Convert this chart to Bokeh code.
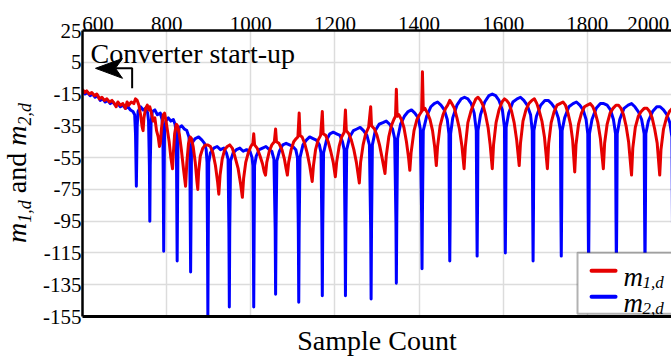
from bokeh.plotting import figure
from bokeh.layouts import row
from bokeh.models import (Range1d, LinearAxis, FixedTicker, Label, BoxAnnotation, Div)
from bokeh.embed import file_html
from bokeh.resources import INLINE

# ---------------- data ----------------
x_ticks = [600, 800, 1000, 1200, 1400, 1600, 1800, 2000]
y_ticks = [25, 5, -15, -35, -55, -75, -95, -115, -135, -155]

# m2,d (blue): (sample, value)
m2_points = [
    (600, -13), (606, -15), (612, -14), (618, -16), (624, -15), (630, -17), (636, -16),
    (642, -19), (648, -18), (654, -20), (660, -19), (666, -21), (672, -20), (678, -22),
    (684, -21), (690, -23), (696, -22), (702, -24), (708, -23), (714, -25), (720, -26),
    (724, -28), (726, -40), (728, -73), (730, -35), (732, -26), (738, -23), (744, -25),
    (750, -24), (755, -27), (757, -32), (759, -60), (760, -95), (761, -60), (763, -33),
    (766, -26), (772, -25), (778, -28), (785, -27), (789, -31), (791, -38), (792, -70),
    (793, -114), (794, -70), (795, -38), (798, -32), (804, -30), (810, -32), (816, -31),
    (820, -34), (823, -40), (824, -80), (825, -120), (826, -80), (827, -42), (830, -36),
    (836, -35), (842, -37), (848, -38), (853, -42), (855, -50), (856, -90), (857, -127),
    (858, -90), (859, -52), (862, -45), (868, -43), (876, -42), (884, -44), (890, -46),
    (894, -50), (896, -58), (897, -100), (898, -155), (899, -100), (900, -58), (904, -52),
    (912, -49), (920, -48), (928, -50), (936, -49), (942, -52), (946, -56), (948, -100),
    (949, -149), (950, -100), (952, -57), (958, -52), (966, -50), (974, -49), (982, -51),
    (990, -50), (998, -51), (1003, -55), (1005, -60), (1006, -100), (1007, -149),
    (1008, -100), (1009, -60), (1013, -54), (1020, -50), (1028, -49), (1036, -48),
    (1044, -50), (1050, -51), (1055, -56), (1058, -100), (1059, -141), (1060, -100),
    (1062, -57), (1068, -51), (1076, -47), (1084, -46), (1092, -47), (1100, -48),
    (1107, -50), (1111, -55), (1113, -100), (1114, -146), (1115, -100), (1117, -55),
    (1124, -47), (1132, -44), (1140, -42), (1148, -43), (1156, -44), (1163, -47),
    (1167, -52), (1169, -100), (1170, -142), (1171, -100), (1173, -52), (1180, -44),
    (1188, -40), (1196, -39), (1204, -40), (1212, -41), (1218, -45), (1222, -50),
    (1224, -100), (1225, -142), (1226, -100), (1228, -50), (1235, -42), (1244, -38),
    (1252, -37), (1260, -36), (1268, -38), (1276, -41), (1282, -47), (1285, -100),
    (1286, -144), (1287, -100), (1289, -47), (1296, -38), (1305, -34), (1314, -33),
    (1322, -32), (1330, -34), (1337, -37), (1342, -43), (1345, -95), (1346, -134),
    (1347, -95), (1349, -43), (1356, -34), (1365, -29), (1374, -26), (1382, -25),
    (1390, -27), (1398, -30), (1403, -37), (1406, -90), (1407, -125), (1408, -90),
    (1410, -38), (1418, -29), (1428, -23), (1436, -21), (1444, -20), (1452, -22),
    (1460, -25), (1467, -31), (1471, -40), (1472, -90), (1473, -120), (1474, -90),
    (1475, -40), (1480, -30), (1490, -22), (1500, -18), (1508, -17), (1516, -18),
    (1524, -21), (1531, -27), (1536, -38), (1537, -85), (1538, -117), (1539, -85),
    (1540, -38), (1546, -28), (1556, -20), (1566, -16), (1574, -15), (1582, -16),
    (1590, -19), (1598, -25), (1603, -36), (1604, -85), (1605, -115), (1606, -85),
    (1607, -36), (1613, -27), (1623, -20), (1633, -18), (1641, -17), (1649, -19),
    (1657, -22), (1665, -28), (1669, -38), (1670, -85), (1671, -120), (1672, -85),
    (1673, -38), (1679, -29), (1689, -22), (1699, -19), (1707, -19), (1715, -21),
    (1723, -24), (1731, -30), (1736, -38), (1737, -85), (1738, -117), (1739, -85),
    (1740, -38), (1746, -30), (1756, -23), (1766, -21), (1774, -20), (1782, -22),
    (1790, -25), (1797, -31), (1801, -40), (1802, -90), (1803, -125), (1804, -90),
    (1805, -40), (1811, -31), (1821, -24), (1831, -21), (1839, -21), (1847, -22),
    (1855, -25), (1862, -31), (1867, -40), (1868, -90), (1869, -125), (1870, -90),
    (1871, -40), (1877, -31), (1887, -24), (1897, -22), (1905, -21), (1913, -23),
    (1921, -26), (1929, -31), (1935, -40), (1936, -90), (1937, -125), (1938, -90),
    (1939, -40), (1945, -32), (1955, -26), (1965, -23), (1973, -23), (1981, -25),
    (1989, -28), (1996, -33), (2001, -42), (2003, -125),
]

# m1,d (red): (sample, value)
m1_points = [
    (600, -12), (605, -14), (610, -13), (616, -15), (622, -14), (628, -16), (634, -15),
    (640, -18), (646, -17), (652, -19), (658, -18), (664, -20), (670, -19), (676, -21),
    (680, -23), (684, -20), (690, -22), (696, -21), (702, -24), (706, -20), (710, -22),
    (716, -20), (722, -21), (726, -18), (730, -19), (734, -22), (738, -28), (742, -36),
    (744, -38), (746, -30), (750, -24), (754, -22), (758, -25), (760, -23), (763, -26),
    (768, -32), (772, -30), (776, -38), (780, -42), (783, -48), (785, -46), (788, -36),
    (792, -28), (795, -27), (798, -31), (802, -38), (806, -45), (810, -55), (814, -62),
    (816, -52), (819, -40), (823, -34), (826, -35), (830, -40), (835, -50), (840, -62),
    (845, -73), (848, -58), (852, -46), (856, -42), (859, -43), (863, -48), (868, -58),
    (872, -70), (874, -75), (876, -64), (880, -54), (886, -49), (892, -47), (898, -47),
    (904, -48), (910, -52), (916, -60), (921, -70), (924, -78), (927, -66), (932, -56),
    (938, -50), (944, -48), (950, -47), (956, -49), (962, -54), (970, -62), (976, -72),
    (980, -80), (983, -68), (988, -58), (994, -52), (1000, -48), (1005, -46), (1007, -40),
    (1009, -47), (1015, -49), (1022, -54), (1028, -59), (1032, -64), (1035, -66),
    (1038, -58), (1044, -51), (1050, -47), (1056, -45), (1059, -37), (1061, -45),
    (1067, -46), (1074, -50), (1080, -56), (1084, -62), (1087, -66), (1090, -58),
    (1096, -50), (1102, -45), (1108, -43), (1112, -42), (1115, -27), (1117, -41),
    (1122, -42), (1128, -46), (1134, -52), (1140, -60), (1146, -70), (1149, -60),
    (1154, -50), (1160, -44), (1166, -41), (1170, -26), (1172, -40), (1178, -41),
    (1184, -45), (1190, -51), (1196, -58), (1201, -67), (1204, -58), (1210, -48),
    (1216, -42), (1222, -39), (1225, -25), (1227, -38), (1233, -40), (1239, -44),
    (1245, -50), (1251, -58), (1258, -71), (1261, -58), (1267, -47), (1273, -40),
    (1280, -36), (1285, -23), (1287, -35), (1294, -37), (1300, -41), (1306, -47),
    (1312, -55), (1319, -65), (1322, -54), (1328, -42), (1334, -35), (1340, -31),
    (1344, -29), (1346, -12), (1348, -29), (1352, -28), (1358, -31), (1364, -36),
    (1370, -45), (1375, -55), (1378, -63), (1381, -52), (1388, -38), (1395, -31),
    (1401, -28), (1406, -26), (1408, -1), (1410, -25), (1414, -24), (1420, -27),
    (1426, -31), (1432, -38), (1437, -48), (1441, -60), (1444, -48), (1450, -35),
    (1457, -28), (1463, -24), (1468, -22), (1473, -19), (1478, -21), (1484, -24),
    (1490, -30), (1496, -37), (1502, -48), (1507, -62), (1510, -48), (1516, -33),
    (1523, -26), (1530, -21), (1535, -18), (1540, -17), (1546, -19), (1552, -22),
    (1558, -28), (1564, -36), (1569, -47), (1574, -62), (1577, -47), (1583, -33),
    (1590, -25), (1597, -20), (1603, -18), (1608, -19), (1614, -21), (1620, -26),
    (1626, -33), (1632, -44), (1638, -60), (1641, -46), (1647, -32), (1654, -25),
    (1661, -21), (1668, -19), (1674, -18), (1680, -21), (1686, -26), (1692, -32),
    (1698, -42), (1705, -62), (1708, -46), (1714, -33), (1721, -26), (1728, -22),
    (1735, -21), (1742, -20), (1748, -22), (1754, -27), (1760, -34), (1765, -44),
    (1770, -64), (1773, -47), (1779, -34), (1786, -27), (1793, -23), (1800, -22),
    (1807, -21), (1813, -23), (1819, -27), (1825, -33), (1831, -43), (1838, -62),
    (1841, -46), (1847, -34), (1854, -27), (1861, -24), (1868, -22), (1874, -22),
    (1880, -24), (1886, -28), (1892, -35), (1898, -45), (1905, -66), (1908, -49),
    (1914, -36), (1921, -29), (1928, -26), (1935, -24), (1942, -24), (1948, -26),
    (1954, -30), (1960, -37), (1966, -46), (1972, -66), (1975, -50), (1981, -37),
    (1988, -30), (1995, -26), (2002, -24),
]

m1_sample = [s for s, _ in m1_points]
m1_value = [v for _, v in m1_points]
m2_sample = [s for s, _ in m2_points]
m2_value = [v for _, v in m2_points]

RED = "#e60000"
BLUE = "#0000ff"
SERIF = "Liberation Serif"

LEFT_W = 38
p = figure(width=671 - LEFT_W, height=358,
           x_range=Range1d(600, 2000), y_range=Range1d(-155, 25),
           x_axis_location="above",
           output_backend="svg", toolbar_location=None,
           min_border_left=82 - LEFT_W, min_border_right=0,
           min_border_top=30, min_border_bottom=41)
p.title.visible = False
p.outline_line_color = None
p.background_fill_color = "white"
p.border_fill_color = "white"

# top axis: the edge labels sit inside the frame, as in the original
top_label_pos = [637, 800, 1000, 1200, 1400, 1600, 1800, 1945]
xa = p.xaxis[0]
xa.ticker = FixedTicker(ticks=top_label_pos)
xa.major_label_overrides = {pos: str(t) for pos, t in zip(top_label_pos, x_ticks)}
xa.major_tick_out = 0
xa.major_tick_in = 0
xa.minor_tick_out = 0
xa.minor_tick_in = 0
xa.axis_line_width = 2.5
xa.axis_line_color = "black"
xa.major_label_text_font = SERIF
xa.major_label_text_font_size = "21px"
xa.major_label_text_color = "black"
xa.major_label_standoff = 0

# left axis
ya = p.yaxis[0]
ya.ticker = FixedTicker(ticks=y_ticks)
ya.major_label_overrides = {t: str(t) for t in y_ticks}
ya.major_tick_out = 0
ya.major_tick_in = 0
ya.minor_tick_out = 0
ya.minor_tick_in = 0
ya.axis_line_width = 2.5
ya.axis_line_color = "black"
ya.major_label_text_font = SERIF
ya.major_label_text_font_size = "21px"
ya.major_label_text_color = "black"
ya.major_label_standoff = 1

# bottom axis with the axis title
xb = LinearAxis(ticker=FixedTicker(ticks=[]), axis_label="Sample Count")
xb.major_tick_out = 0
xb.minor_tick_out = 0
xb.major_label_text_font_size = "0px"
xb.axis_line_width = 3
xb.axis_line_color = "black"
xb.axis_label_text_font = SERIF
xb.axis_label_text_font_size = "28px"
xb.axis_label_text_font_style = "normal"
xb.axis_label_text_color = "black"
xb.axis_label_standoff = 8
p.add_layout(xb, "below")

# grid
p.xgrid.ticker = FixedTicker(ticks=x_ticks[1:-1])
p.ygrid.ticker = FixedTicker(ticks=y_ticks[1:-1])
p.xgrid.grid_line_color = "#dcdcdc"
p.ygrid.grid_line_color = "#dcdcdc"
p.xgrid.grid_line_width = 1.5
p.ygrid.grid_line_width = 1.5

# series
p.line(m2_sample, m2_value, line_color=BLUE, line_width=3, line_join="round")
p.line(m1_sample, m1_value, line_color=RED, line_width=3, line_join="round")

# annotation: converter start-up
p.add_layout(Label(x=619, y=10.6, text="Converter start-up", text_align="left",
                   text_baseline="alphabetic", text_font=SERIF, text_font_size="28px",
                   text_color="black"))
p.patch([630.9, 695.1, 678.4, 695.1], [1.2, 7.4, 1.2, -5.1],
        fill_color="black", line_color="black", line_width=1)
p.line([678, 718, 718], [1.2, 1.2, -11.4], line_color="black", line_width=2)

# legend (drawn by hand to keep the subscripts)
p.add_layout(BoxAnnotation(left=1776.6, right=2030, bottom=-153.2, top=-114.9,
                           fill_color="white", fill_alpha=1.0,
                           line_color="black", line_width=2))
p.segment(x0=[1810, 1810], y0=[-126.2, -142.5], x1=[1867, 1867], y1=[-126.2, -142.5],
          line_color=[RED, BLUE], line_width=4, line_cap="round", level="overlay")
for (xx, yy, t, sz) in [(1886, -129.9, "m", "27px"), (1931, -133.7, "1,d", "17px"),
                        (1886, -146.3, "m", "27px"), (1931, -150.0, "2,d", "17px")]:
    lab = Label(x=xx, y=yy, text=t, text_align="left", text_baseline="alphabetic",
                text_font=SERIF, text_font_size=sz, text_font_style="italic",
                text_color="black")
    lab.level = "overlay"
    p.add_layout(lab)

# y-axis title (rotated, with real italic subscripts)
SUB = 'style="font-size:18px;font-style:italic;vertical-align:-5px;line-height:0;"'
ytitle_html = (
    '<div style="position:relative;width:38px;height:358px;overflow:visible;background:#fff;">'
    '<div style="position:absolute;left:3px;top:243px;transform:rotate(-90deg);'
    'transform-origin:0 0;white-space:nowrap;font-family:\'Liberation Serif\',serif;'
    'font-size:28px;line-height:28px;color:#000;">'
    '<i>m</i><span ' + SUB + '>1,d</span> and '
    '<i>m</i><span ' + SUB + '>2,d</span>'
    '</div></div>'
)
ytitle = Div(text=ytitle_html, width=LEFT_W, height=358, margin=(0, 0, 0, 0))

layout = row(ytitle, p, spacing=0)
open("out.html", "w").write(file_html(layout, INLINE))
